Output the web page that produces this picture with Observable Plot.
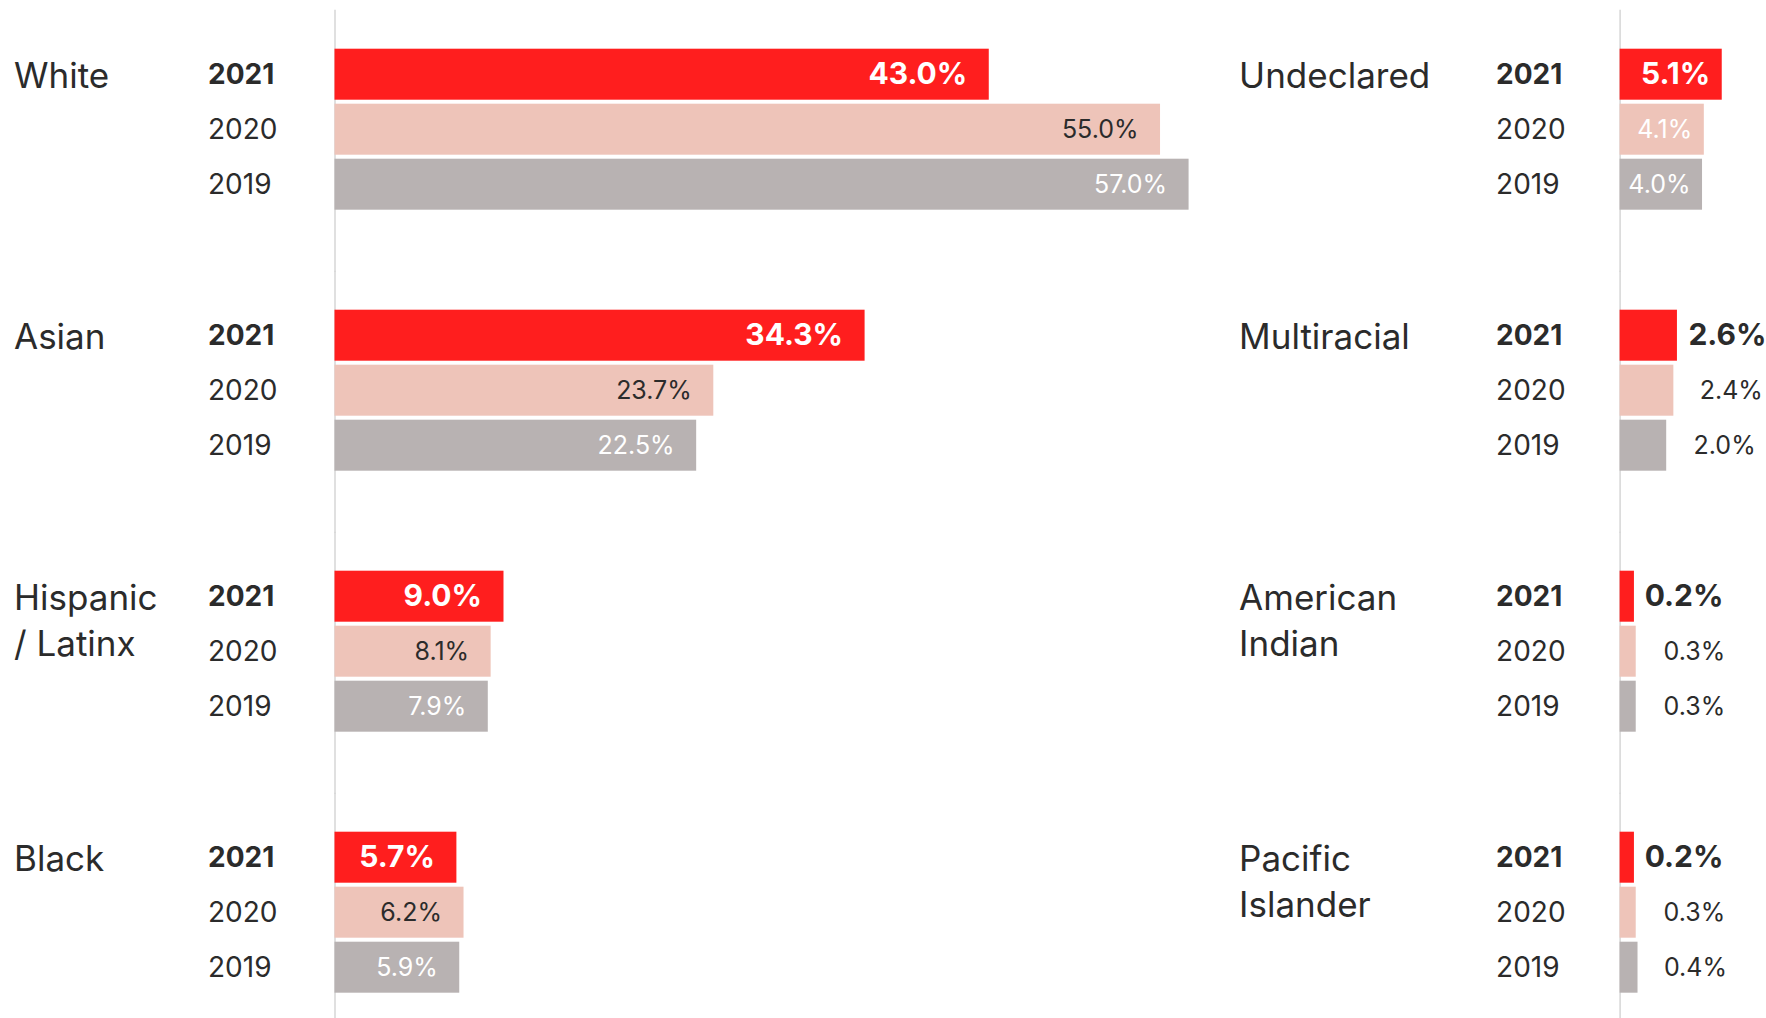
<!DOCTYPE html>
<html><head><meta charset="utf-8">
<script src="https://cdn.jsdelivr.net/npm/d3@7"></script>
<script src="https://cdn.jsdelivr.net/npm/@observablehq/plot@0.6"></script>
<style>
html,body{margin:0;padding:0;background:#fff;}
#wrap{width:1766px;height:1018px;display:flex;overflow:hidden;}
#wrap svg{display:block;}
</style></head><body><div id="wrap"></div>
<script>
const years = ["2021", "2020", "2019"];
const yearColors = ["#FF1E1E", "#EEC4B9", "#B8B2B2"];

const leftCategories = ["White", "Asian", "Hispanic / Latinx", "Black"];
const leftLabels = ["White", "Asian", "Hispanic\n/ Latinx", "Black"];
const leftValues2021 = [43.0, 34.3, 9.0, 5.7];
const leftValues2020 = [55.0, 23.7, 8.1, 6.2];
const leftValues2019 = [57.0, 22.5, 7.9, 5.9];

const rightCategories = ["Undeclared", "Multiracial", "American Indian", "Pacific Islander"];
const rightLabels = ["Undeclared", "Multiracial", "American\nIndian", "Pacific\nIslander"];
const rightValues2021 = [5.1, 2.6, 0.2, 0.2];
const rightValues2020 = [4.1, 2.4, 0.3, 0.3];
const rightValues2019 = [4.0, 2.0, 0.3, 0.4];

function buildRows(cats, labels, v21, v20, v19) {
  const rows = [];
  cats.forEach((c, i) => {
    [[years[0], v21[i]], [years[1], v20[i]], [years[2], v19[i]]].forEach(([yr, v]) => {
      rows.push({cat: c, label: labels[i], year: yr, value: v});
    });
  });
  return rows;
}

const FONT = "Inter, 'Open Sans', sans-serif";
const DARK = "#2b2b2b";
const fmt = d => d.value.toFixed(1) + "%";

function panel(cfg) {
  const rows = buildRows(cfg.cats, cfg.labels, cfg.v21, cfg.v20, cfg.v19);
  const first = rows.filter(d => d.year === "2021");
  const rest = rows.filter(d => d.year !== "2021");
  const inside = d => d.value >= cfg.threshold;
  const common = {fy: "cat", y: "year"};
  const base = cfg.domain[0];
  const marks = [
    Plot.ruleX([base], {stroke: "#d6d6d6", strokeWidth: 1.5, insetTop: -38.3, insetBottom: -62}),
    Plot.barX(rows, {...common, x1: base, x2: "value", fill: "year"}),
    // category names
    Plot.text(first, {...common, text: "label", frameAnchor: "left", textAnchor: "start",
      dx: cfg.catDx, lineAnchor: "top", dy: -20, lineHeight: 1.32, fontSize: 35, fill: DARK}),
    // year labels
    Plot.text(first, {...common, text: "year", frameAnchor: "left", textAnchor: "start",
      dx: cfg.yearDx, fontSize: 28, fontWeight: 700, fill: DARK}),
    Plot.text(rest, {...common, text: "year", frameAnchor: "left", textAnchor: "start",
      dx: cfg.yearDx, fontSize: 28, fill: DARK}),
    // inside value labels
    Plot.text(first.filter(inside), {...common, x: "value", text: fmt, textAnchor: "end",
      dx: cfg.insideDx, fontSize: 30, fontWeight: 700, fill: "#ffffff"}),
    Plot.text(rest.filter(d => inside(d) && d.year === "2020"), {...common, x: "value", text: fmt,
      textAnchor: "end", dx: cfg.insideDx, fontSize: 25, fill: cfg.inside2020}),
    Plot.text(rest.filter(d => inside(d) && d.year === "2019"), {...common, x: "value", text: fmt,
      textAnchor: "end", dx: cfg.insideDx, fontSize: 25, fill: "#ffffff"}),
    // outside value labels
    Plot.text(first.filter(d => !inside(d)), {...common, x: "value", text: fmt, textAnchor: "end",
      dx: cfg.outsideDx, fontSize: 30, fontWeight: 700, fill: DARK}),
    Plot.text(rest.filter(d => !inside(d)), {...common, x: "value", text: fmt, textAnchor: "end",
      dx: cfg.outsideDx, fontSize: 25, fill: DARK})
  ];
  return Plot.plot({
    width: cfg.width,
    height: 1018,
    marginLeft: cfg.marginLeft,
    marginRight: cfg.marginRight,
    marginTop: 47.3,
    marginBottom: 23.5,
    style: {fontFamily: FONT, background: "#fff", overflow: "visible"},
    x: {domain: cfg.domain, axis: null},
    y: {domain: years, axis: null, paddingInner: 0.07, paddingOuter: 0},
    fy: {domain: cfg.cats, axis: null, paddingInner: 0.38, paddingOuter: 0},
    color: {domain: years, range: yearColors},
    marks
  });
}

const wrap = document.getElementById("wrap");
wrap.append(panel({
  cats: leftCategories, labels: leftLabels,
  v21: leftValues2021, v20: leftValues2020, v19: leftValues2019,
  width: 1200, marginLeft: 334.5, marginRight: 0, domain: [-2.84, 57.8],
  catDx: -321, yearDx: -127, insideDx: -22, outsideDx: 90, threshold: 1,
  inside2020: DARK
}));
wrap.append(panel({
  cats: rightCategories, labels: rightLabels,
  v21: rightValues2021, v20: rightValues2020, v19: rightValues2019,
  width: 566, marginLeft: 419.6, marginRight: 0, domain: [-0.6, 7.57],
  catDx: -381, yearDx: -124, insideDx: -12, outsideDx: 89, threshold: 3.5,
  inside2020: "#ffffff"
}));
</script></body></html>
